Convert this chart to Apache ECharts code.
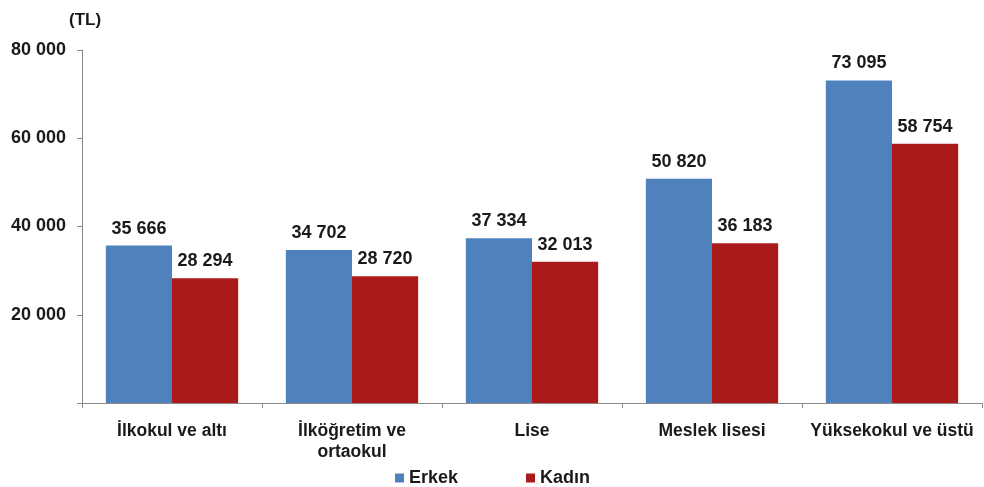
<!DOCTYPE html>
<html style="height: 100%">
<head>
    <meta charset="utf-8">
</head>
<body style="height: 100%; margin: 0; background: #fff;">
    <div id="container" style="width: 984px; height: 487px;"></div>
    <script type="text/javascript" src="https://cdn.jsdelivr.net/npm/echarts@6/dist/echarts.min.js"></script>
    <script type="text/javascript">
        var categories = ['İlkokul ve altı', 'İlköğretim ve\nortaokul', 'Lise', 'Meslek lisesi', 'Yüksekokul ve üstü'];
        var erkek = [35666, 34702, 37334, 50820, 73095];
        var kadin = [28294, 28720, 32013, 36183, 58754];
        var yTicks = [0, 20000, 40000, 60000, 80000];

        function fmt(v) {
            return String(v).replace(/\B(?=(\d{3})+(?!\d))/g, ' ');
        }

        var font = 'Liberation Sans, Arial, sans-serif';
        var chart = echarts.init(document.getElementById('container'));

        var option = {
            animation: false,
            title: {
                text: '(TL)',
                left: 64,
                top: 7,
                textStyle: { fontFamily: font, fontSize: 17, fontWeight: 'bold', color: '#1a1a1a' }
            },
            grid: { left: 82, right: 2, top: 50, bottom: 84 },
            legend: {
                top: 464,
                left: 390,
                itemWidth: 9,
                itemHeight: 9,
                itemGap: 68,
                itemTextGap: 4,
                icon: 'rect',
                textStyle: { fontFamily: font, fontSize: 18, fontWeight: 'bold', color: '#1a1a1a' },
                data: ['Erkek', 'Kadın']
            },
            xAxis: {
                type: 'category',
                data: categories,
                axisLine: { lineStyle: { color: '#8a8a8a', width: 1 } },
                axisTick: { show: true, length: 5, lineStyle: { color: '#8a8a8a' } },
                axisLabel: {
                    margin: 18,
                    interval: 0,
                    fontFamily: font,
                    fontSize: 17.5,
                    fontWeight: 'bold',
                    color: '#1a1a1a',
                    lineHeight: 21
                }
            },
            yAxis: {
                type: 'value',
                min: yTicks[0],
                max: yTicks[yTicks.length - 1],
                interval: 20000,
                axisLine: { show: true, lineStyle: { color: '#8a8a8a', width: 1 } },
                axisTick: { show: true, length: 5, lineStyle: { color: '#8a8a8a' } },
                splitLine: { show: false },
                axisLabel: {
                    margin: 16,
                    fontFamily: font,
                    fontSize: 18,
                    fontWeight: 'bold',
                    color: '#1a1a1a',
                    formatter: function (v) { return v === 0 ? '' : fmt(v); }
                }
            },
            series: [
                {
                    name: 'Erkek',
                    type: 'bar',
                    data: erkek,
                    barGap: '0%',
                    barCategoryGap: '26.5%',
                    itemStyle: { color: '#4F81BD' },
                    label: {
                        show: true,
                        position: 'top',
                        distance: 8,
                        fontFamily: font,
                        fontSize: 18,
                        fontWeight: 'bold',
                        color: '#1a1a1a',
                        formatter: function (p) { return fmt(p.value); }
                    }
                },
                {
                    name: 'Kadın',
                    type: 'bar',
                    data: kadin,
                    itemStyle: { color: '#AA1A1A' },
                    label: {
                        show: true,
                        position: 'top',
                        distance: 8,
                        fontFamily: font,
                        fontSize: 18,
                        fontWeight: 'bold',
                        color: '#1a1a1a',
                        formatter: function (p) { return fmt(p.value); }
                    }
                }
            ]
        };

        chart.setOption(option);
    </script>
</body>
</html>
